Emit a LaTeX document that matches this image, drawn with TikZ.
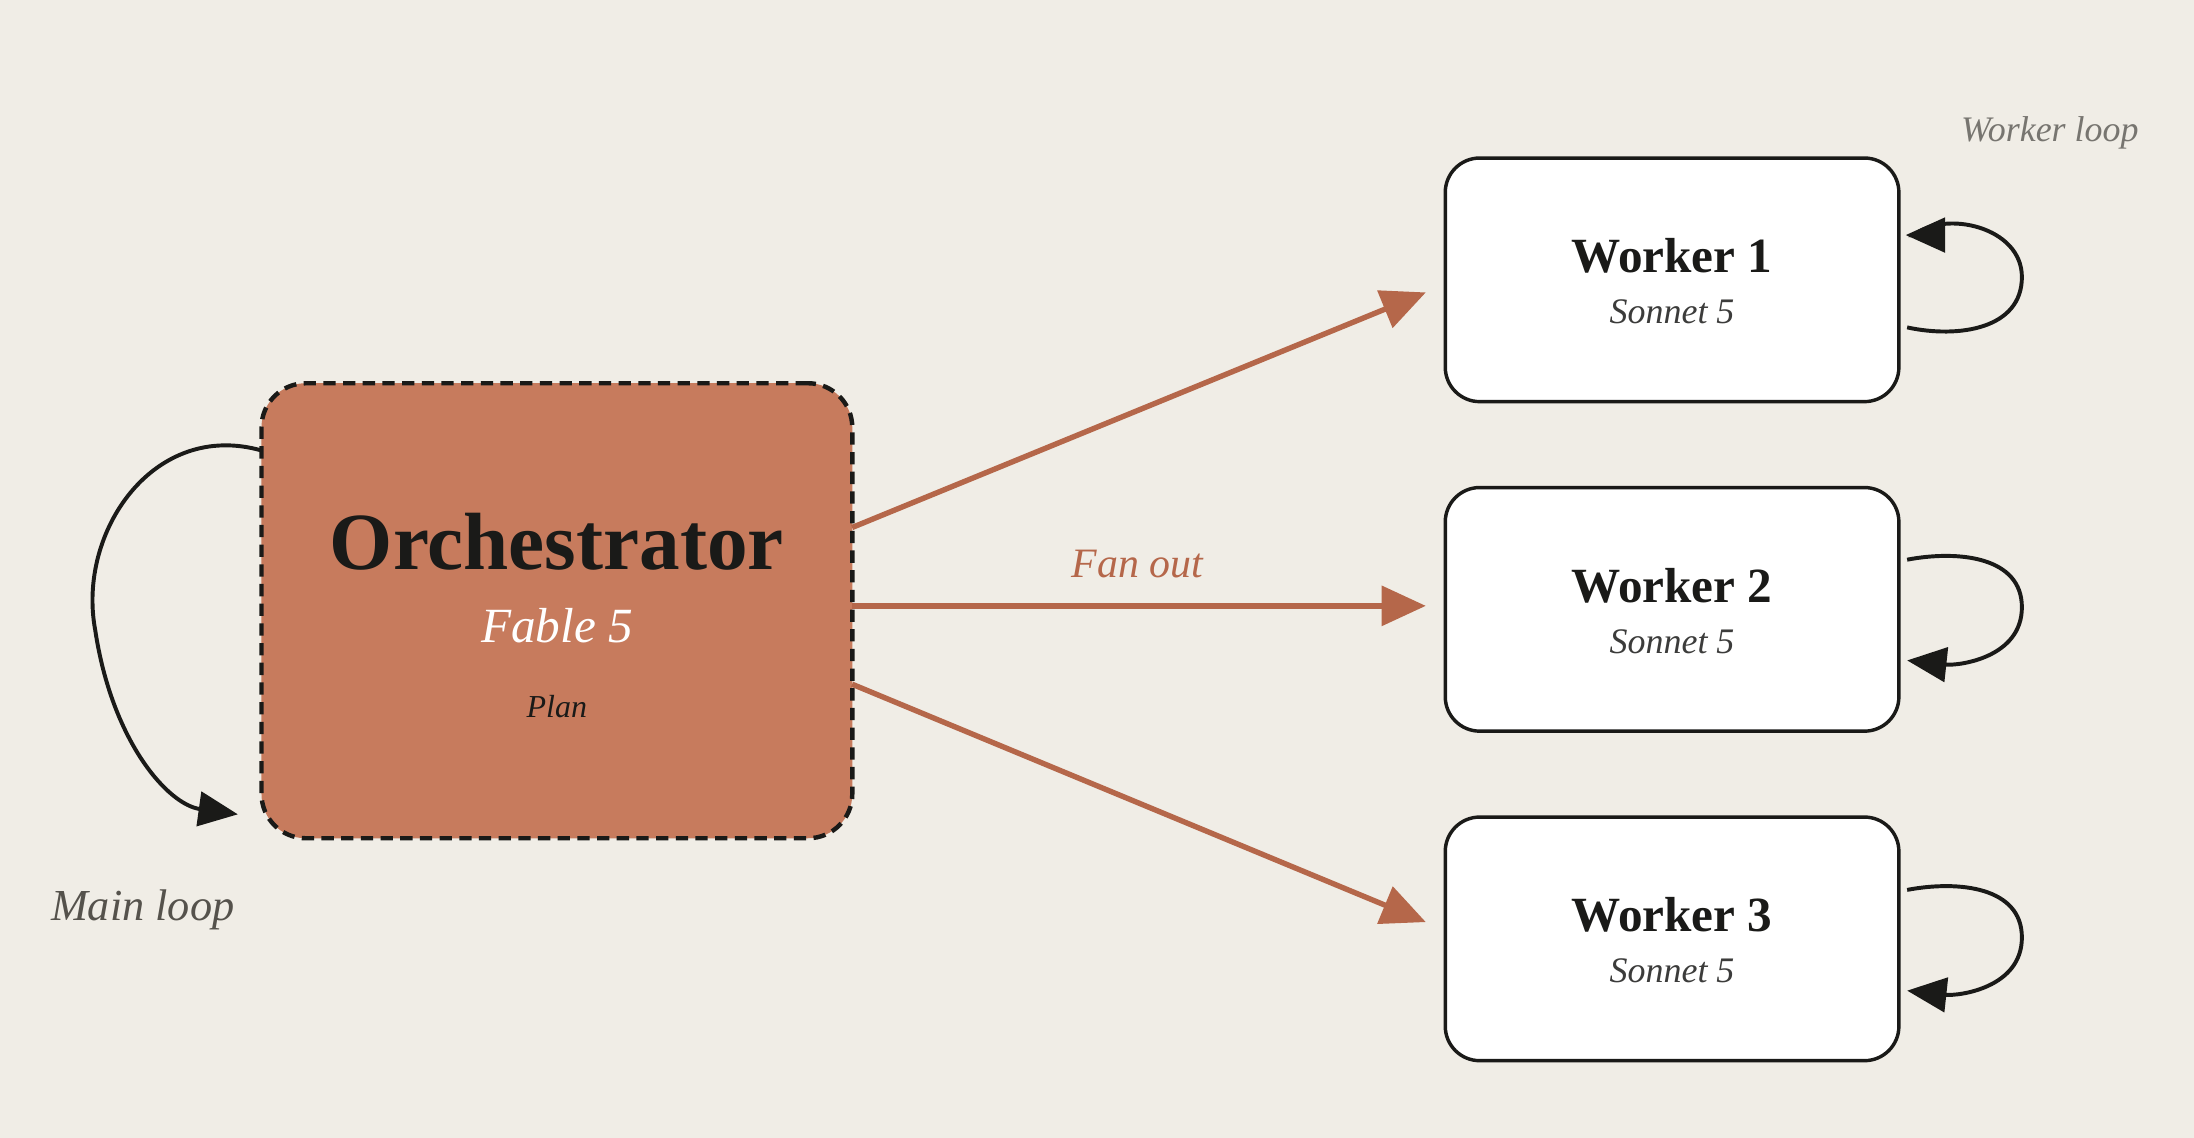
\documentclass[tikz,border=0pt]{standalone}
\usepackage{fontspec}
\setmainfont{Liberation Serif}
\usetikzlibrary{arrows.meta}
\definecolor{bg}{HTML}{F0EDE6}
\definecolor{orch}{HTML}{C77B5D}
\definecolor{arr}{HTML}{B5674A}
\definecolor{gry}{HTML}{55524C}
\definecolor{txt}{HTML}{1A1A18}
\begin{document}
\begin{tikzpicture}[x=0.01cm,y=-0.01cm,
  worker/.style={draw=txt,line width=0.7pt,fill=white,rounded corners=7pt,minimum width=3.24cm,minimum height=1.74cm},
  fan/.style={draw=arr,line width=1.1pt,-{Triangle[length=9pt,width=8pt]}},
  loop/.style={draw=txt,line width=0.8pt,-{Triangle[length=8pt,width=7pt]}},
  lbl/.style={font=\itshape}]
\fill[bg] (0,0) rectangle (1568,813);
\useasboundingbox (0,0) rectangle (1568,813);
\node[draw=txt,dashed,dash pattern=on 2.5pt off 1.5pt,line width=0.9pt,fill=orch,rounded corners=9pt,minimum width=4.22cm,minimum height=3.25cm] (o) at (398,436.5) {};
\node[font=\bfseries\fontsize{16.5}{18}\selectfont,text=txt] (ot) at (398,387) {Orchestrator};
\node[font=\itshape\fontsize{10}{12}\selectfont,text=white] (of) at (398,447) {Fable 5};
\node[font=\itshape\fontsize{6.5}{8}\selectfont,text=txt] (op) at (398,505) {Plan};
\foreach \i/\y in {1/200,2/435.5,3/671}{
  \node[worker] (w\i) at (1195,\y) {};
  \node[font=\bfseries\fontsize{10}{12}\selectfont,text=txt] (wt\i) at (1195,\y-17) {Worker \i};
  \node[font=\itshape\fontsize{7.3}{9}\selectfont,text=txt!85] (ws\i) at (1195,\y+23) {Sonnet 5};
}
\coordinate (s1) at (609,377); \coordinate (e1) at (1019,209);
\coordinate (s2) at (609,433); \coordinate (e2) at (1019,433);
\coordinate (s3) at (609,489); \coordinate (e3) at (1019,659);
\draw[fan] (s1) -- (e1);
\draw[fan] (s2) -- (e2);
\draw[fan] (s3) -- (e3);
\node[text=arr,font=\itshape\fontsize{8.5}{10}\selectfont] (fo) at (813,403) {Fan out};
\coordinate (ml1) at (187,322); \coordinate (ml2) at (170,582);
\draw[loop] (ml1) .. controls (110,300) and (55,380) .. (68,450) .. controls (80,530) and (120,575) .. (ml2);
\node[font=\itshape\fontsize{9}{10}\selectfont,text=gry] (mll) at (102,650) {Main loop};
\coordinate (a1) at (1363,234); \coordinate (b1) at (1362,168);
\draw[loop] (a1) .. controls (1400,242) and (1445,235) .. (1445,198) .. controls (1445,162) and (1390,150) .. (1368,168) -- (b1);
\coordinate (a2) at (1363,400); \coordinate (b2) at (1363,472);
\draw[loop] (a2) .. controls (1400,393) and (1445,398) .. (1445,434) .. controls (1445,470) and (1400,476) .. (b2);
\coordinate (a3) at (1363,636); \coordinate (b3) at (1363,708);
\draw[loop] (a3) .. controls (1400,629) and (1445,634) .. (1445,670) .. controls (1445,706) and (1400,712) .. (b3);
\node[font=\itshape\fontsize{7.3}{9}\selectfont,text=gry!80] (wl) at (1465,95) {Worker loop};
\end{tikzpicture}
\end{document}
